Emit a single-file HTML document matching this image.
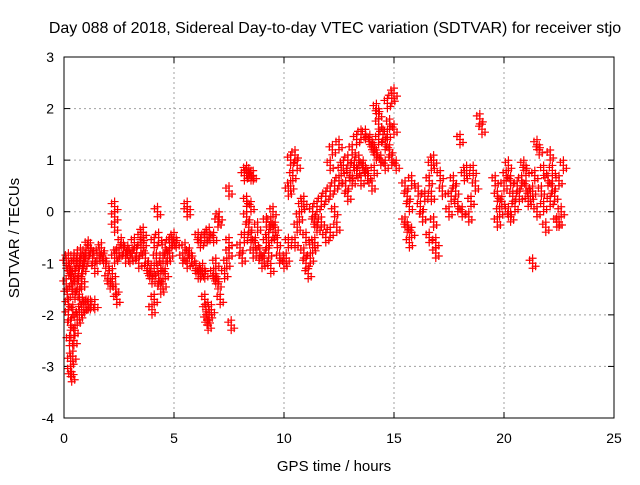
<!DOCTYPE html>
<html><head><meta charset="utf-8"><style>
body{margin:0;background:#fff;}
text{font-family:"Liberation Sans",sans-serif;font-size:14px;fill:#000;}
</style></head><body>
<svg id="chart" width="640" height="480" viewBox="0 0 640 480" xmlns="http://www.w3.org/2000/svg">
<text x="335" y="33" text-anchor="middle" style="font-size:16px">Day 088 of 2018, Sidereal Day-to-day VTEC variation (SDTVAR) for receiver stjo</text>
<g id="grid"></g>
<g id="ticks"></g>
<g id="points"></g>
<rect x="64" y="57" width="550" height="361" fill="none" stroke="#000" stroke-width="1"/>
<text x="334" y="471" text-anchor="middle" style="font-size:15px">GPS time / hours</text>
<text transform="translate(19,238) rotate(-90)" text-anchor="middle" style="font-size:15px">SDTVAR / TECUs</text>
</svg>
<script>
const xTicks=[0,5,10,15,20,25];
const yTicks=[-4,-3,-2,-1,0,1,2,3];
const hours=[0.1,0.15,0.2,0.25,0.3,0.3,0.35,0.4,0.45,0.5,0.6,0.7,0.8,0.9,1.0,1.1,1.2,1.4,
0.1,0.2,0.3,0.4,0.5,0.6,0.7,0.8,0.9,1.0,1.1,1.2,1.3,1.4,1.5,1.6,1.7,
0.2,0.3,0.4,0.5,0.6,0.7,0.8,0.25,0.35,0.45,0.55,0.65,0.75,0.85,0.95,
1.8,1.9,2.0,2.1,2.2,2.3,2.4,2.3,2.3,2.3,2.35,2.4,
2.5,2.7,2.9,3.1,3.3,3.5,3.2,3.0,2.6,2.8,3.4,
3.5,3.6,3.7,3.8,3.9,4.0,4.1,3.6,
4.1,4.2,4.3,4.4,4.5,4.6,4.5,4.3,4.6,4.7,4.8,4.9,5.0,5.1,4.25,4.0,4.1,4.4,4.8,
5.4,5.5,5.6,5.7,5.8,5.6,5.6,6.0,6.1,6.2,6.3,6.4,6.1,6.2,6.4,6.6,6.5,6.8,6.8,6.9,6.9,
6.4,6.45,6.5,6.55,6.6,6.7,
7.0,7.05,7.0,7.1,7.3,7.4,7.5,7.5,7.6,7.5,
8.0,8.2,8.2,8.3,8.4,8.5,8.6,8.3,8.4,8.5,8.6,8.7,8.5,8.8,8.3,8.1,8.9,
9.0,9.1,9.2,9.3,9.4,9.5,9.6,9.7,9.8,9.2,9.3,9.4,9.5,
10.0,10.1,10.2,10.2,10.3,10.4,10.5,10.6,10.7,10.8,10.3,10.5,10.6,10.9,11.0,11.1,11.2,11.3,11.4,10.9,11.0,11.4,
11.3,11.5,11.7,11.9,12.1,12.3,12.5,12.6,11.5,11.7,11.9,12.1,12.3,12.1,12.2,12.5,12.4,
12.7,12.9,13.1,13.3,13.5,13.7,13.9,14.0,12.8,13.0,13.2,13.4,13.6,13.8,14.0,12.9,13.1,13.3,13.5,13.7,
14.1,14.2,14.3,14.2,14.3,14.5,14.6,14.7,14.8,14.9,15.0,14.7,14.8,14.9,15.0,15.1,14.4,14.6,14.1,14.3,
15.5,15.6,15.7,15.6,15.7,15.8,15.5,15.8,16.1,16.2,16.3,16.4,
16.6,16.7,16.8,16.7,16.8,16.9,16.9,16.6,17.1,17.2,
17.5,17.6,17.7,17.8,17.9,18.0,18.2,18.3,18.1,18.4,18.5,18.6,18.7,18.9,19.0,
19.6,19.7,19.8,19.7,19.9,20.0,20.1,20.2,20.3,20.4,20.5,20.6,20.3,20.2,
20.7,20.8,20.9,21.0,21.1,21.2,21.3,21.3,21.4,21.5,21.6,21.7,21.8,21.9,22.0,22.1,22.2,22.3,22.4,22.5,22.6,22.1,21.8,22.5,22.7,21.5,22.2,21.0];
const sdtvar=[-1.4,-1.6,-2.0,-2.5,-2.9,-3.1,-3.2,-2.8,-2.5,-2.3,-2.1,-2.0,-1.9,-1.85,-1.8,-1.8,-1.8,-1.8,
-1.0,-0.9,-1.2,-1.5,-1.2,-0.9,-1.0,-1.3,-1.0,-0.8,-0.65,-0.7,-0.9,-1.1,-0.9,-0.8,-0.7,
-1.8,-2.2,-1.9,-1.6,-1.4,-1.6,-1.4,-1.1,-1.3,-0.9,-1.0,-1.2,-0.8,-1.1,-0.9,
-0.9,-1.0,-1.3,-1.4,-1.2,-0.9,-0.8,0.1,-0.1,-0.3,-1.5,-1.7,
-0.8,-0.7,-0.75,-0.8,-0.8,-0.7,-0.6,-0.9,-0.6,-0.9,-1.0,
-0.5,-0.6,-0.9,-1.1,-1.2,-1.3,-1.1,-0.4,
-0.6,-0.9,-1.3,-1.5,-1.4,-1.2,-0.9,-0.5,-0.7,-0.9,-0.8,-0.6,-0.5,-0.6,0.0,-1.9,-1.7,-1.1,-0.6,
-0.9,-0.7,-1.0,-0.8,-0.9,0.1,0.0,-1.1,-1.2,-1.2,-1.1,-1.2,-0.5,-0.6,-0.5,-0.4,-0.5,-0.5,-1.2,-1.0,-1.3,
-1.7,-1.9,-2.1,-2.2,-2.0,-1.9,
-0.2,-0.1,-1.4,-1.7,-1.2,-1.0,-0.8,0.4,-2.2,-0.6,
-0.7,-0.5,0.7,0.8,0.75,0.7,0.7,-0.1,-0.3,-0.5,-0.8,-0.6,0.1,-0.3,0.2,-0.9,-0.8,
-1.0,-0.9,-0.6,-0.5,-0.2,0.0,-0.3,-0.6,-0.9,-0.2,-0.8,-1.1,-0.4,
-1.0,-0.9,-0.6,0.4,0.5,0.7,-0.6,-0.3,-0.1,0.1,1.0,1.1,0.9,-0.8,-1.0,-1.2,-0.9,-0.7,-0.6,0.2,-0.5,-0.2,
0.0,0.1,0.2,0.3,0.4,0.5,0.6,0.8,-0.3,-0.2,-0.5,-0.4,0.0,0.9,1.2,1.3,-0.3,
0.9,1.0,1.2,1.4,1.5,1.5,1.4,1.3,0.5,0.7,0.9,1.0,0.9,0.7,0.5,0.3,0.6,0.8,0.6,0.8,
0.8,1.1,1.4,2.0,1.9,1.5,1.3,1.5,1.7,2.2,2.3,2.1,1.2,1.0,1.6,0.9,1.0,0.9,1.2,1.7,
0.5,0.3,0.1,-0.3,-0.6,-0.4,-0.2,0.6,0.4,0.1,-0.1,0.3,
0.6,0.9,1.0,0.3,-0.2,-0.6,-0.8,-0.5,0.7,0.4,
0.0,0.3,0.6,0.4,0.1,1.4,0.7,0.8,0.0,-0.1,0.2,0.8,0.5,1.8,1.6,
0.6,0.3,0.0,-0.2,0.2,0.5,0.7,0.9,0.6,0.3,0.1,0.5,-0.1,0.0,
0.3,0.6,0.9,0.5,0.2,0.3,-1.0,0.4,0.7,1.3,1.2,0.4,0.1,-0.3,0.6,1.1,0.8,0.3,-0.2,-0.2,0.0,0.2,0.8,0.6,0.9,0.0,0.5,0.8];
const X0=64,X1=614,Y0=418,Y1=57;
const xs=t=>X0+(t-0)/(25-0)*(X1-X0);
const ys=v=>Y0-(v-(-4))/(3-(-4))*(Y0-Y1);
const NS="http://www.w3.org/2000/svg";
const grid=document.getElementById('grid'),ticks=document.getElementById('ticks'),pts=document.getElementById('points');
function mk(tag,attrs,parent){const e=document.createElementNS(NS,tag);for(const k in attrs)e.setAttribute(k,attrs[k]);parent.appendChild(e);return e;}
xTicks.forEach(t=>{
  const x=xs(t);
  if(t>0&&t<25){const g=mk('line',{x1:x,x2:x,y1:Y1,y2:Y0,stroke:'#a0a0a0','stroke-dasharray':'2,3'},grid);
  
  }
  mk('line',{x1:x,x2:x,y1:Y0,y2:Y0-6,stroke:'#000'},ticks);
  mk('line',{x1:x,x2:x,y1:Y1,y2:Y1+6,stroke:'#000'},ticks);
  const l=mk('text',{x:x,y:443,'text-anchor':'middle'},ticks);l.textContent=t;
  
  
});
yTicks.forEach(v=>{
  const y=ys(v);
  if(v>-4&&v<3){const g=mk('line',{x1:X0,x2:X1,y1:y,y2:y,stroke:'#a0a0a0','stroke-dasharray':'2,3'},grid);
  
  }
  mk('line',{x1:X0,x2:X0+6,y1:y,y2:y,stroke:'#000'},ticks);
  mk('line',{x1:X1,x2:X1-6,y1:y,y2:y,stroke:'#000'},ticks);
  const l=mk('text',{x:54,y:y+5,'text-anchor':'end'},ticks);l.textContent=v;
  
  
});
hours.forEach((t,i)=>{
  const x=xs(t),y=ys(sdtvar[i]);
  const p=mk('path',{d:`M${x-4},${y}h8M${x},${y-4}v8`,stroke:'#f00','stroke-width':1.2,fill:'none'},pts);
  
  
  [[-3,-3],[3,3],[0,-5],[0,5]].forEach(o=>{
    const q=mk('path',{d:`M${x+o[0]-4},${y+o[1]}h8M${x+o[0]},${y+o[1]-4}v8`,stroke:'#f00','stroke-width':1.2,fill:'none'},pts);
    
    
  });
});
</script>
</body></html>
